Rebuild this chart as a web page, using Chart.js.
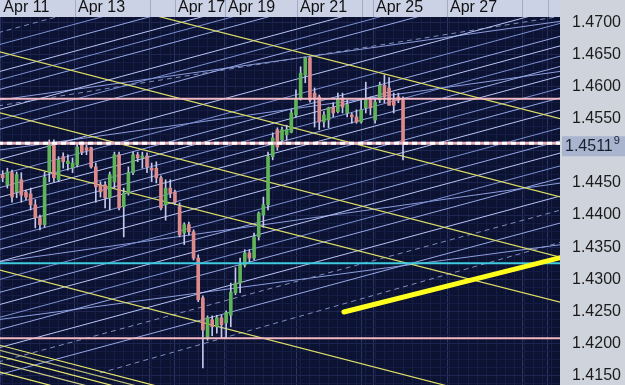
<!DOCTYPE html>
<html>
<head>
<meta charset="utf-8">
<script src="https://cdn.jsdelivr.net/npm/chart.js@4.4.1/dist/chart.umd.min.js"></script>
<style>
  html, body { margin: 0; padding: 0; background: #cfd3db; }
  #wrap { width: 625px; height: 385px; }
</style>
</head>
<body>
<div id="wrap"><canvas id="eurusd" width="625" height="385"></canvas></div>
<script>
// EUR/USD 3h CANDLES, APR 11 - APR 25

const candleOpen = [1.4463, 1.4447, 1.4466, 1.4436, 1.4455, 1.4436, 1.4433, 1.4416, 1.4396, 1.4385,
    1.4467, 1.4509, 1.4455, 1.4491, 1.4480, 1.4473, 1.4478, 1.4509, 1.4505, 1.4505,
    1.4475, 1.4447, 1.4447, 1.4427, 1.4452, 1.4494, 1.4413, 1.4434, 1.4466, 1.4494,
    1.4489, 1.4492, 1.4473, 1.4473, 1.4458, 1.4416, 1.4442, 1.4436, 1.4413, 1.4372,
    1.4385, 1.4374, 1.4333, 1.4271, 1.4210, 1.4237, 1.4226, 1.4240, 1.4232, 1.4244,
    1.4279, 1.4294, 1.4322, 1.4341, 1.4333, 1.4366, 1.4400, 1.4416, 1.4491, 1.4533,
    1.4517, 1.4525, 1.4529, 1.4556, 1.4582, 1.4618, 1.4645, 1.4590, 1.4584, 1.4545,
    1.4548, 1.4568, 1.4561, 1.4582, 1.4559, 1.4556, 1.4553, 1.4545, 1.4567, 1.4579,
    1.4548, 1.4579, 1.4602, 1.4598, 1.4579, 1.4584, 1.4579];
const candleHigh = [1.4469, 1.4473, 1.4470, 1.4467, 1.4466, 1.4439, 1.4442, 1.4424, 1.4400, 1.4467,
    1.4517, 1.4517, 1.4491, 1.4497, 1.4494, 1.4489, 1.4512, 1.4514, 1.4509, 1.4506,
    1.4481, 1.4452, 1.4452, 1.4467, 1.4498, 1.4498, 1.4442, 1.4475, 1.4498, 1.4498,
    1.4498, 1.4497, 1.4481, 1.4483, 1.4461, 1.4455, 1.4455, 1.4439, 1.4419, 1.4388,
    1.4389, 1.4377, 1.4338, 1.4274, 1.4243, 1.4243, 1.4244, 1.4244, 1.4251, 1.4294,
    1.4318, 1.4333, 1.4346, 1.4346, 1.4372, 1.4405, 1.4428, 1.4498, 1.4528, 1.4536,
    1.4537, 1.4540, 1.4564, 1.4595, 1.4631, 1.4646, 1.4646, 1.4598, 1.4587, 1.4561,
    1.4568, 1.4575, 1.4590, 1.4590, 1.4579, 1.4559, 1.4564, 1.4579, 1.4607, 1.4584,
    1.4582, 1.4607, 1.4618, 1.4614, 1.4590, 1.4590, 1.4584];
const candleLow = [1.4452, 1.4442, 1.4420, 1.4427, 1.4420, 1.4424, 1.4408, 1.4380, 1.4377, 1.4381,
    1.4452, 1.4452, 1.4452, 1.4473, 1.4470, 1.4466, 1.4475, 1.4494, 1.4494, 1.4473,
    1.4420, 1.4428, 1.4411, 1.4408, 1.4442, 1.4408, 1.4366, 1.4431, 1.4463, 1.4483,
    1.4473, 1.4466, 1.4452, 1.4450, 1.4408, 1.4392, 1.4427, 1.4416, 1.4366, 1.4354,
    1.4369, 1.4330, 1.4265, 1.4162, 1.4205, 1.4212, 1.4216, 1.4208, 1.4208, 1.4226,
    1.4276, 1.4279, 1.4319, 1.4327, 1.4330, 1.4361, 1.4381, 1.4408, 1.4486, 1.4501,
    1.4512, 1.4517, 1.4528, 1.4553, 1.4579, 1.4606, 1.4576, 1.4537, 1.4533, 1.4537,
    1.4536, 1.4553, 1.4559, 1.4559, 1.4553, 1.4543, 1.4543, 1.4543, 1.4559, 1.4556,
    1.4543, 1.4575, 1.4575, 1.4571, 1.4559, 1.4575, 1.4486];
const candleClose = [1.4458, 1.4467, 1.4428, 1.4463, 1.4431, 1.4428, 1.4416, 1.4396, 1.4385, 1.4459,
    1.4509, 1.4458, 1.4486, 1.4483, 1.4484, 1.4481, 1.4506, 1.4498, 1.4501, 1.4475,
    1.4444, 1.4436, 1.4427, 1.4463, 1.4494, 1.4411, 1.4434, 1.4466, 1.4494, 1.4489,
    1.4492, 1.4475, 1.4470, 1.4458, 1.4411, 1.4442, 1.4434, 1.4420, 1.4369, 1.4385,
    1.4374, 1.4333, 1.4268, 1.4221, 1.4240, 1.4226, 1.4240, 1.4229, 1.4248, 1.4280,
    1.4294, 1.4322, 1.4341, 1.4333, 1.4366, 1.4403, 1.4416, 1.4491, 1.4520, 1.4506,
    1.4533, 1.4533, 1.4559, 1.4582, 1.4621, 1.4645, 1.4579, 1.4582, 1.4545, 1.4556,
    1.4567, 1.4559, 1.4582, 1.4568, 1.4572, 1.4553, 1.4545, 1.4564, 1.4579, 1.4567,
    1.4576, 1.4602, 1.4584, 1.4571, 1.4571, 1.4579, 1.4512];

// date bar: candle index where each day box starts
const dayTicks = [-0.5, 15.53, 37.01, 47.75, 63.22, 79.55, 95.45];
const dayLabels = ["Apr 11", "Apr 13", "Apr 17", "Apr 19", "Apr 21", "Apr 25", "Apr 27"];
const emptyBoxTicks = [31.64, 77.18, 111.56, 117.14];

const lastPrice = 1.45119;

// horizontal levels
const pinkLevels = [1.4581, 1.4208];
const cyanLevel = 1.4325;

// rising channel lines, price at candle -1 and candle 121
const riseFrom = [1.4684, 1.4665, 1.4645, 1.4623, 1.4610, 1.4595, 1.4564, 1.4548, 1.4533, 1.4486,
    1.4462, 1.4442, 1.4427, 1.4411, 1.4395, 1.4380, 1.4361, 1.4346, 1.4327, 1.4299,
    1.4279, 1.4260, 1.4240, 1.4221, 1.4193, 1.4171, 1.4151];
const riseTo = [1.4923, 1.4904, 1.4884, 1.4862, 1.4849, 1.4834, 1.4803, 1.4787, 1.4771, 1.4725,
    1.4701, 1.4681, 1.4666, 1.4650, 1.4634, 1.4619, 1.4600, 1.4585, 1.4566, 1.4538,
    1.4518, 1.4499, 1.4479, 1.4460, 1.4432, 1.4410, 1.4390];
const flatFrom = [1.4570, 1.4579, 1.4501, 1.4327, 1.4237];
const flatTo = [1.4711, 1.4703, 1.4625, 1.4451, 1.4355];

// falling yellow channel, candle -1 to candle 121
const fallFrom = [1.4773, 1.4655, 1.4560, 1.4487, 1.4315, 1.4198, 1.4190, 1.4181, 1.4170, 1.4156];
const fallTo = [1.4548, 1.4426, 1.4332, 1.4262, 1.4086, 1.3968, 1.3960, 1.3950, 1.3940, 1.3926];

// thick yellow support
const thickX = [73.3, 120];
const thickY = [1.4249, 1.4334];

const candleIndex = candleOpen.map((v, i) => i);

const GREEN = "#5fb45a";
const RED = "#dc8a8c";
const FONT = "'Liberation Sans', Arial, sans-serif";

function seg(x0, y0, x1, y1, color, width, dash, order) {
    return {
        type: "line",
        data: [{ x: x0, y: y0 }, { x: x1, y: y1 }],
        borderColor: color,
        borderWidth: width,
        borderDash: dash || [],
        borderCapStyle: "butt",
        pointRadius: 0,
        fill: false,
        tension: 0,
        order: order,
    };
}

const datasets = [];

// wicks and bodies
datasets.push({
    type: "bar",
    data: candleIndex.map(i => ({ x: i, y: [candleLow[i], candleHigh[i]] })),
    backgroundColor: "#c3c8ec",
    barThickness: 1,
    grouped: false,
    order: 2,
});
datasets.push({
    type: "bar",
    data: candleIndex.map(i => ({ x: i, y: [candleOpen[i], candleClose[i]] })),
    backgroundColor: candleIndex.map(i => candleClose[i] >= candleOpen[i] ? GREEN : RED),
    barThickness: 3,
    minBarLength: 1,
    grouped: false,
    order: 1,
});

const riseColors = ["#b9c5f6", "#7c8fd2", "#97a8e6"];
riseFrom.forEach((p, i) => {
    const dashed = i === 0 || i === 25;
    datasets.push(seg(-1, p, 121, riseTo[i], dashed ? "#7f8dbd" : riseColors[i % 3], 1, dashed ? [5, 4] : null, 4));
});
flatFrom.forEach((p, i) => {
    const dashed = i === 0;
    datasets.push(seg(-1, p, 121, flatTo[i], dashed ? "#7f8dbd" : "#8d9edf", 1, dashed ? [5, 4] : null, 4));
});
// lower dashed ray
datasets.push(seg(20.9, 1.4154, 121, 1.4360, "#7f8dbd", 1, [5, 4], 4));

const fallColors = ["#dede66", "#dede66", "#dede66", "#dede66", "#dede66", "#eaea6a", "#bdbd78", "#eaea6a", "#cfcf88", "#eaea6a"];
fallFrom.forEach((p, i) => {
    datasets.push(seg(-1, p, 121, fallTo[i], fallColors[i], 1.2, null, 3));
});

datasets.push(Object.assign(seg(thickX[0], thickY[0], thickX[1], thickY[1], "#ffff1e", 5, null, 0.5), { borderCapStyle: "round" }));

pinkLevels.forEach(p => datasets.push(seg(-1, p, 121, p, "#f2b8c4", 2, null, 0.5)));
datasets.push(seg(-1, cyanLevel, 121, cyanLevel, "#3fcbe0", 2, null, 0.5));
datasets.push(seg(-1, lastPrice, 121, lastPrice, "#eeb0bf", 3, null, 0.5));
datasets.push(seg(-1, lastPrice, 121, lastPrice, "#ffffff", 3, [5, 4], 0));

// grid ticks
const gridPrices = [];
for (let k = 0; k <= 45; k++) gridPrices.push(+(1.41375 + k * 0.00125).toFixed(5));
const isMajorPrice = v => Math.abs(v * 200 - Math.round(v * 200)) < 1e-6;

const dayMarks = dayTicks.concat(emptyBoxTicks);
const gridCandles = [];
for (let k = 0; k <= 59; k++) gridCandles.push(2 * k);
const isDayMark = v => dayMarks.some(d => Math.abs(d - v) < 1e-6);

const panels = {
    id: "panels",
    beforeDraw(chart) {
        const { ctx, chartArea: a, width, height } = chart;
        ctx.save();
        ctx.fillStyle = "#cfd3db";
        ctx.fillRect(0, 0, width, height);
        ctx.fillStyle = "#ccd2e6";
        ctx.fillRect(0, 0, a.right, a.top);
        ctx.fillStyle = "#0b1232";
        ctx.fillRect(a.left, a.top, a.right - a.left, a.bottom - a.top);
        ctx.restore();
    },
    afterDraw(chart) {
        const { ctx, chartArea: a, scales } = chart;
        ctx.save();
        // date bar separators
        ctx.strokeStyle = "#a3abc6";
        ctx.lineWidth = 1;
        dayMarks.slice(1).forEach(v => {
            const x = Math.round(scales.x.getPixelForValue(v)) + 0.5;
            ctx.beginPath();
            ctx.moveTo(x, 0);
            ctx.lineTo(x, a.top);
            ctx.stroke();
        });
        // current price box
        const y = scales.y.getPixelForValue(lastPrice);
        ctx.fillStyle = "#a9b5cf";
        ctx.fillRect(a.right + 2, y - 7, 63, 20);
        ctx.fillStyle = "#1a1f2e";
        ctx.textBaseline = "middle";
        ctx.font = "16px " + FONT;
        const txt = lastPrice.toFixed(5).slice(0, 6);
        ctx.fillText(txt, a.right + 5, y + 3);
        const w = ctx.measureText(txt).width;
        ctx.font = "11px " + FONT;
        ctx.fillText(lastPrice.toFixed(5).slice(6), a.right + 6 + w, y - 2);
        ctx.restore();
    },
};

new Chart(document.getElementById("eurusd"), {
    type: "bar",
    data: { datasets: datasets },
    options: {
        responsive: false,
        animation: false,
        events: [],
        layout: { padding: 0 },
        plugins: {
            legend: { display: false },
            tooltip: { enabled: false },
        },
        scales: {
            x: {
                type: "linear",
                position: "top",
                min: -0.58,
                max: 119.72,
                offset: false,
                afterBuildTicks: s => {
                    s.ticks = gridCandles.concat(dayMarks).sort((a, b) => a - b).map(v => ({ value: v }));
                },
                afterFit: s => {
                    s.height = 17;
                    s.paddingLeft = 0;
                    s.paddingRight = 0;
                },
                grid: {
                    offset: false,
                    drawTicks: false,
                    color: c => isDayMark(c.tick.value) ? "#2a3462" : "#161e45",
                },
                border: { display: false },
                ticks: {
                    autoSkip: false,
                    maxRotation: 0,
                    padding: 0,
                    align: "start",
                    labelOffset: 3,
                    color: "#111111",
                    font: { family: FONT, size: 16 },
                    callback: v => {
                        const k = dayTicks.findIndex(d => Math.abs(d - v) < 1e-6);
                        return k >= 0 ? dayLabels[k] : "";
                    },
                },
            },
            y: {
                position: "right",
                min: 1.41353,
                max: 1.47085,
                afterBuildTicks: s => {
                    s.ticks = gridPrices.map(v => ({ value: v }));
                },
                afterFit: s => {
                    s.width = 65;
                    s.paddingTop = 0;
                    s.paddingBottom = 0;
                },
                grid: {
                    drawTicks: false,
                    color: c => isMajorPrice(c.tick.value) ? "#1d2550" : "#151c43",
                },
                border: { display: false },
                ticks: {
                    autoSkip: false,
                    padding: 12,
                    color: "#1b1b1b",
                    font: { family: FONT, size: 16 },
                    callback: v => isMajorPrice(v) ? v.toFixed(4) : "",
                },
            },
        },
    },
    plugins: [panels],
});
</script>
</body>
</html>
